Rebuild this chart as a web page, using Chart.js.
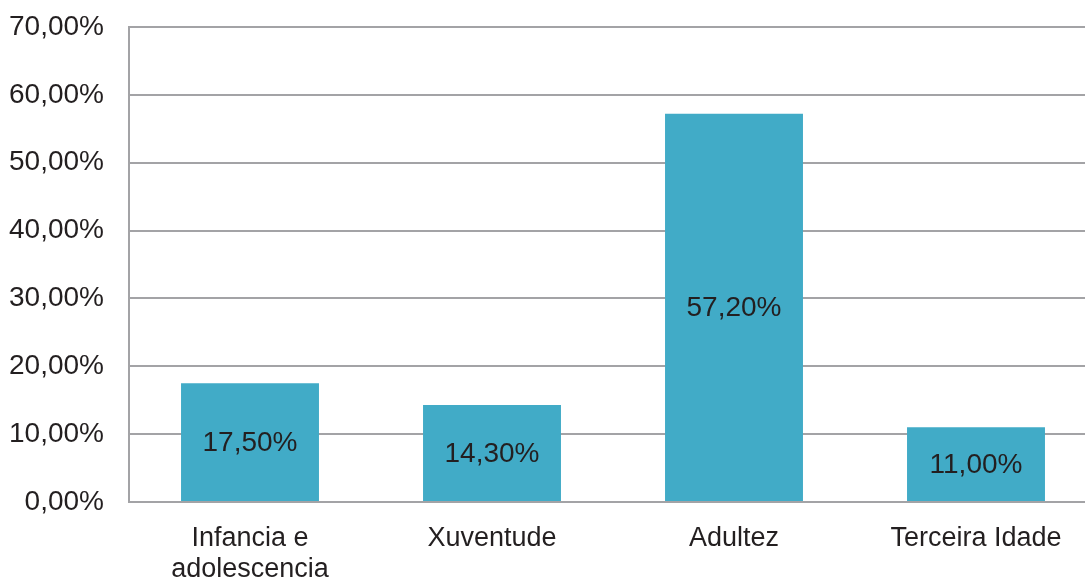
<!DOCTYPE html>
<html>
<head>
<meta charset="utf-8">
<script src="https://cdn.jsdelivr.net/npm/chart.js@4"></script>
<style>
  html, body { margin: 0; padding: 0; background: #fff; overflow: hidden; }
  canvas { display: block; }
</style>
</head>
<body>
<canvas id="chart" width="1097" height="579"></canvas>
<script>
const categories = [["Infancia e", "adolescencia"], "Xuventude", "Adultez", "Terceira Idade"];
const percentages = [17.5, 14.3, 57.2, 11.0];
const yMax = 70;
const yStep = 10;

const textColor = "#231f20";
const gridColor = "#a3a3a6";
const barColor = "#41abc7";
const fontFamily = "'Liberation Sans', Arial, sans-serif";

function formatPercent(v) {
  return v.toFixed(2).replace(".", ",") + "%";
}

// etiquetas dentro das barras, centradas verticalmente
const insideLabels = {
  id: "insideLabels",
  afterDatasetsDraw(chart) {
    const ctx = chart.ctx;
    const meta = chart.getDatasetMeta(0);
    ctx.save();
    ctx.font = "28px " + fontFamily;
    ctx.fillStyle = textColor;
    ctx.textAlign = "center";
    ctx.textBaseline = "middle";
    meta.data.forEach((bar, i) => {
      const y = (bar.y + bar.base) / 2;
      ctx.fillText(formatPercent(percentages[i]), bar.x, y + 1);
    });
    ctx.restore();
  }
};

new Chart(document.getElementById("chart").getContext("2d"), {
  type: "bar",
  data: {
    labels: categories,
    datasets: [{
      data: percentages,
      backgroundColor: barColor,
      borderWidth: 0,
      categoryPercentage: 1,
      barPercentage: 0.57
    }]
  },
  options: {
    responsive: false,
    animation: false,
    layout: { padding: { top: 27, right: 0, left: 0, bottom: 0 } },
    plugins: { legend: { display: false }, tooltip: { enabled: false } },
    scales: {
      x: {
        grid: { display: false },
        border: { display: true, color: gridColor, width: 2 },
        ticks: {
          color: textColor,
          font: { family: fontFamily, size: 27, lineHeight: 1.15 },
          padding: 13,
          maxRotation: 0,
          autoSkip: false
        },
        afterFit(scale) {
          scale.height = 77;
          scale.paddingTop = 0;
          scale.paddingBottom = 0;
        }
      },
      y: {
        min: 0,
        max: yMax,
        grid: { color: gridColor, lineWidth: 2, drawTicks: false },
        border: { display: true, color: gridColor, width: 2 },
        ticks: {
          stepSize: yStep,
          color: textColor,
          font: { family: fontFamily, size: 28 },
          padding: 25,
          callback: v => formatPercent(v)
        },
        afterFit(scale) {
          scale.width = 129;
          scale.paddingTop = 0;
          scale.paddingBottom = 0;
        }
      }
    }
  },
  plugins: [insideLabels]
});
</script>
</body>
</html>
